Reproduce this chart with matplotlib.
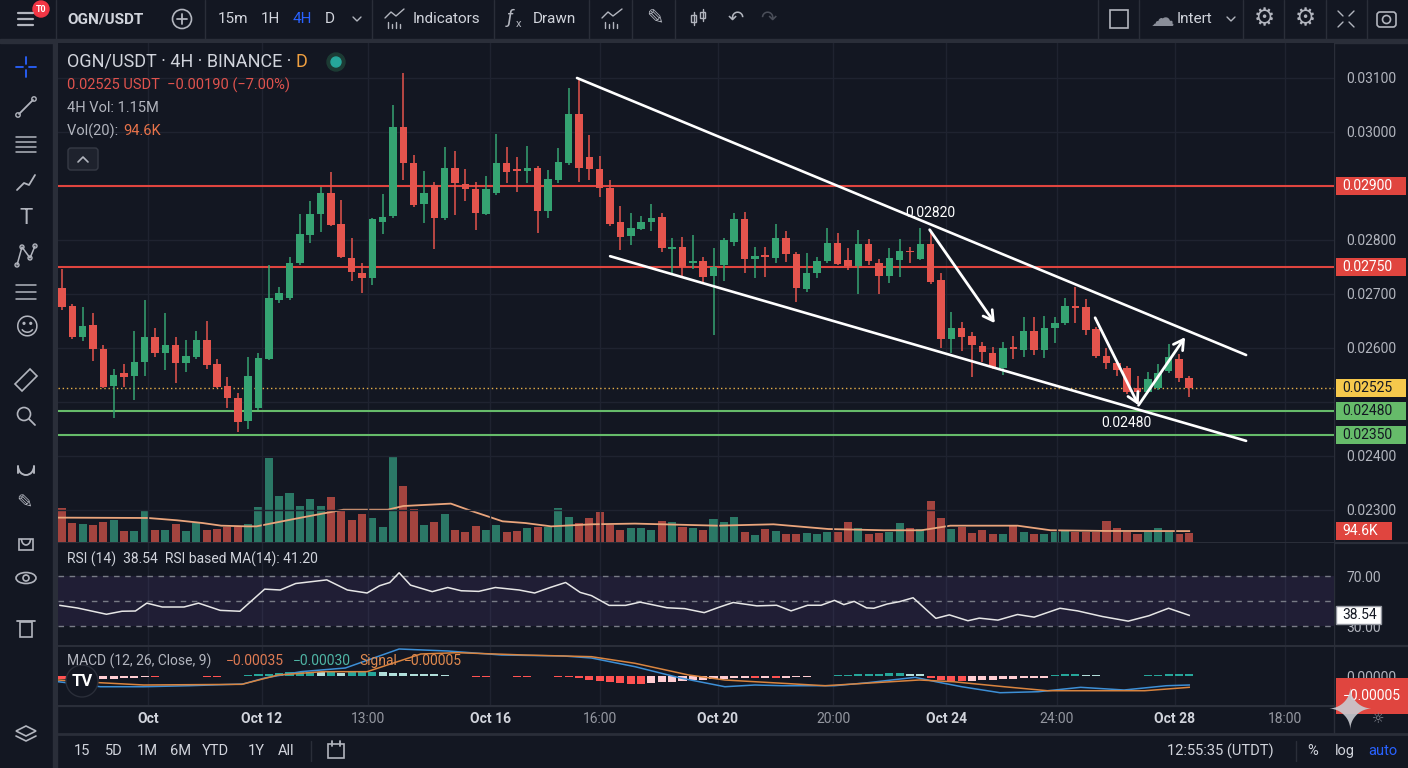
import matplotlib.pyplot as plt
from matplotlib.patches import Rectangle, Circle, FancyBboxPatch, Polygon, Ellipse, Arc
import numpy as np

# ---- candles, 4H, prices in 1e-5 USDT ----
opens = [2711, 2678, 2620, 2643, 2598, 2530, 2554, 2548, 2574, 2620,
         2591, 2606, 2572, 2583, 2615, 2570, 2530, 2507, 2465, 2489,
         2580, 2689, 2693, 2757, 2809, 2848, 2887, 2830, 2767, 2739,
         2730, 2833, 2845, 3009, 2943, 2867, 2902, 2841, 2933, 2904,
         2894, 2848, 2887, 2943, 2931, 2928, 2933, 2854, 2911, 2943,
         3033, 2954, 2931, 2896, 2833, 2807, 2820, 2833, 2843, 2783,
         2787, 2757, 2761, 2733, 2754, 2796, 2839, 2765, 2772, 2767,
         2804, 2774, 2709, 2739, 2761, 2795, 2763, 2752, 2793, 2757,
         2733, 2763, 2780, 2765, 2793, 2726, 2617, 2637, 2622, 2604,
         2591, 2563, 2602, 2596, 2632, 2596, 2637, 2646, 2678, 2676,
         2635, 2585, 2572, 2563, 2526, 2519, 2526, 2557, 2580, 2544]
highs = [2746, 2682, 2676, 2665, 2606, 2561, 2570, 2632, 2689, 2637,
         2665, 2620, 2615, 2632, 2650, 2580, 2546, 2517, 2583, 2591,
         2754, 2713, 2769, 2848, 2872, 2898, 2926, 2874, 2804, 2757,
         2841, 2885, 3050, 3109, 2957, 2928, 2907, 2972, 2965, 2931,
         2907, 2918, 2996, 2972, 2954, 2974, 2937, 2930, 2970, 3082,
         3100, 2995, 2956, 2911, 2863, 2850, 2845, 2867, 2850, 2804,
         2806, 2809, 2769, 2785, 2804, 2850, 2852, 2787, 2787, 2830,
         2817, 2778, 2776, 2769, 2822, 2813, 2785, 2818, 2802, 2765,
         2785, 2802, 2787, 2822, 2813, 2739, 2667, 2648, 2630, 2611,
         2602, 2611, 2622, 2657, 2657, 2659, 2657, 2693, 2713, 2691,
         2639, 2600, 2574, 2567, 2548, 2556, 2570, 2607, 2589, 2548]
lows = [2670, 2617, 2613, 2576, 2526, 2470, 2528, 2504, 2548, 2583,
        2559, 2535, 2556, 2580, 2561, 2526, 2489, 2444, 2450, 2485,
        2578, 2683, 2689, 2754, 2795, 2815, 2826, 2767, 2724, 2702,
        2717, 2811, 2841, 2911, 2861, 2832, 2783, 2837, 2846, 2872,
        2818, 2846, 2883, 2906, 2889, 2906, 2813, 2841, 2906, 2939,
        2907, 2911, 2880, 2826, 2782, 2791, 2818, 2817, 2778, 2739,
        2733, 2746, 2722, 2624, 2724, 2789, 2739, 2730, 2732, 2757,
        2759, 2685, 2704, 2730, 2757, 2754, 2745, 2700, 2754, 2700,
        2720, 2732, 2757, 2763, 2718, 2600, 2591, 2594, 2546, 2574,
        2561, 2550, 2580, 2583, 2587, 2582, 2609, 2643, 2646, 2624,
        2582, 2561, 2548, 2515, 2498, 2517, 2522, 2554, 2537, 2509]
closes = [2676, 2620, 2641, 2598, 2528, 2550, 2546, 2574, 2620, 2591,
          2606, 2572, 2585, 2615, 2569, 2528, 2507, 2463, 2548, 2582,
          2693, 2702, 2757, 2811, 2848, 2887, 2828, 2769, 2741, 2730,
          2839, 2843, 3009, 2943, 2865, 2887, 2841, 2933, 2906, 2894,
          2850, 2894, 2943, 2926, 2928, 2933, 2854, 2913, 2945, 3033,
          2933, 2931, 2896, 2830, 2806, 2822, 2833, 2841, 2785, 2787,
          2750, 2761, 2732, 2750, 2800, 2839, 2765, 2770, 2769, 2804,
          2774, 2711, 2739, 2761, 2795, 2756, 2752, 2793, 2761, 2733,
          2767, 2780, 2778, 2793, 2722, 2617, 2637, 2620, 2606, 2593,
          2565, 2600, 2598, 2632, 2596, 2637, 2646, 2678, 2674, 2633,
          2585, 2572, 2559, 2519, 2519, 2543, 2554, 2583, 2544, 2525]
volume_k = [299, 165, 154, 148, 177, 189, 96, 96, 273, 102,
            102, 154, 96, 165, 107, 113, 131, 131, 154, 305,
            734, 400, 429, 313, 377, 310, 394, 281, 194, 241,
            206, 131, 740, 490, 284, 151, 177, 241, 102, 84,
            136, 102, 148, 84, 96, 119, 131, 131, 293, 218,
            165, 206, 258, 148, 102, 119, 119, 102, 180, 171,
            131, 125, 107, 197, 171, 218, 90, 61, 113, 96,
            73, 73, 78, 73, 90, 90, 171, 119, 73, 78,
            90, 165, 119, 113, 357, 206, 113, 131, 78, 107,
            67, 73, 142, 90, 73, 73, 90, 102, 90, 90,
            90, 183, 119, 84, 73, 84, 119, 84, 73, 78]

# Vol(20) line read at sample bars
vol_ma_x = [-0.3, 8.3, 11.1, 13.6, 15.4, 17.9, 18.8, 22.6, 27.2, 31.5, 33.0, 37.6, 39.4, 42.6,
            44.8, 47.3, 51.2, 55.4, 63.4, 68.8, 74.1, 79.5, 83.1, 85.9, 92.4, 95.6, 101.0, 109.0]
vol_ma_k = [212, 209, 189, 165, 142, 136, 136, 203, 281, 281, 313, 334, 276, 180,
            165, 136, 154, 160, 142, 154, 113, 102, 102, 142, 142, 102, 96, 95]

# RSI(14) read at sample bars
rsi_x = [-0.2, 1.5, 4.3, 5.8, 7.1, 8.2, 9.7, 11.8, 13.2, 15.3, 17.2, 19.6, 21.1, 22.6, 25.6,
         27.6, 29.5, 30.7, 31.7, 32.6, 33.7, 35.8, 37.3, 38.6, 40.3, 41.9, 44.2, 45.7, 47.2,
         48.7, 50.1, 51.2, 52.9, 54.5, 55.9, 58.5, 60.2, 62.1, 63.6, 64.9, 67.2, 69.1, 70.5,
         72.1, 73.4, 74.7, 75.6, 76.6, 77.8, 78.5, 79.8, 81.0, 82.3, 84.5, 85.8, 87.6, 88.7,
         90.5, 92.4, 94.0, 96.5, 98.2, 100.6, 103.1, 105.1, 107.0, 109.0]
rsi_val = [46.5, 44.4, 39.4, 41.8, 42.0, 48.3, 45.2, 45.2, 48.3, 42.5, 41.8, 59.5, 58.8, 64.0, 66.9,
           58.8, 56.4, 62.2, 64.8, 72.6, 62.7, 57.5, 60.8, 58.2, 57.7, 60.8, 58.8, 56.4, 60.8,
           64.8, 56.9, 54.3, 46.5, 46.5, 49.1, 44.6, 43.9, 40.7, 45.2, 48.8, 46.1, 46.6, 42.1,
           46.6, 46.6, 50.5, 47.1, 49.7, 44.5, 44.2, 47.6, 49.5, 52.6, 36.1, 38.9, 34.2, 36.3,
           34.7, 39.2, 37.1, 44.2, 42.1, 37.6, 33.9, 38.2, 44.2, 38.54]

# MACD (1e-5 units)
macd_x = [-0.4, 3.7, 7.9, 12.3, 17.5, 19.6, 23.1, 27.4, 32.6, 37.3, 42.5, 48.5, 51.2, 55.4, 59.8,
          64.1, 67.0, 69.7, 74.7, 77.9, 82.5, 84.5, 87.0, 90.7, 94.4, 98.5, 102.7, 106.8, 109.0]
macd_val = [-1.42, -2.68, -2.68, -2.43, -2.0, -0.5, 1.08, 2.0, 6.75, 6.25, 5.25, 5.0, 4.5, 2.33, -0.5,
            -2.68, -2.25, -2.43, -2.43, -1.68, -0.33, -1.43, -2.68, -4.18, -3.93, -2.83, -3.5, -2.43, -2.25]
signal_x = [-0.4, 3.7, 7.9, 17.4, 20.9, 25.2, 29.5, 34.7, 38.2, 44.7, 51.2, 55.4, 60.6, 64.1,
            67.0, 73.8, 82.9, 86.2, 91.1, 95.3, 100.6, 104.7, 109.0]
signal_val = [-1.0, -1.68, -2.25, -2.08, 0.25, 1.08, 1.08, 5.5, 5.83, 5.25, 4.83, 3.18, 0.25, -1.0,
              -1.43, -2.43, -1.0, -1.43, -2.68, -3.68, -3.68, -3.68, -2.83]
hist = [-0.8, -1.0, -1.0, -0.9, -0.8, -0.7, -0.6, -0.5,
        -0.2, -0.2, -0.1, 0.1, 0.1, -0.1, -0.2, -0.2, -0.1, 0.1, 0.2,
        0.4, 0.6, 0.8, 0.9, 1.0, 1.0, 0.9, 0.9, 0.8, 0.9, 1.0, 1.0, 0.9, 0.8, 0.7, 0.6, 0.5, 0.4, 0.3,
        -0.1, -0.1, -0.2, -0.2, -0.1, -0.1, -0.2, -0.2, -0.1, -0.1, -0.2, -0.3,
        -0.6, -0.9, -1.2, -1.5, -1.7, -1.9, -1.9, -1.8, -1.6, -1.4, -1.2, -1.0, -0.9, -0.8, -0.7, -0.6, -0.5,
        -0.6, -0.5, -0.5, -0.4, -0.3, -0.2, -0.1,
        0.1, 0.2, 0.3, 0.4, 0.5, 0.6, 0.7, 0.7, 0.6, 0.5,
        -0.4, -0.9, -1.2, -1.3, -1.2, -1.1, -1.0, -0.8, -0.7, -0.6, -0.5, -0.4,
        0.3, 0.4, 0.4, 0.3, 0.2,
        -0.1, -0.1, -0.1, -0.1,
        0.2, 0.3, 0.4, 0.4, 0.4]

time_ticks = [8.3, 19.3, 29.6, 41.4, 52.0, 63.4, 74.6, 85.5, 96.2, 107.6, 118.3]
time_labels = ['Oct', 'Oct 12', '13:00', 'Oct 16', '16:00', 'Oct 20', '20:00',
               'Oct 24', '24:00', 'Oct 28', '18:00']
price_levels = [3100, 3000, 2900, 2800, 2700, 2600, 2500, 2400, 2300]
resistance = [2900, 2750]
support = [2483, 2439]
support_text = ['0.02480', '0.02350']
channel_upper = ([49.8, 114.5], [3100, 2587])
channel_lower = ([53.0, 114.5], [2770, 2428])
arrows = [((83.9, 2819), (90.2, 2646)),
          ((99.9, 2656), (104.1, 2494)),
          ((104.1, 2494), (108.6, 2620))]

BG = '#131722'
SEP = '#2a2e39'
GRID = '#1f2330'
TXT = '#d1d4dc'
MUTED = '#b2b5be'
UP, DOWN = '#35a372', '#e4544d'
VUP, VDN = '#2b7866', '#a3443f'

plt.rcParams['font.family'] = ['Roboto', 'DejaVu Sans']

W, H = 1408, 768
fig = plt.figure(figsize=(W / 100, H / 100), dpi=100, facecolor=BG)


def box(x0, y0, x1, y1):
    return [x0 / W, 1 - y1 / H, (x1 - x0) / W, (y1 - y0) / H]


# ---------- interface chrome (pixel coords) ----------
ui = fig.add_axes([0, 0, 1, 1])
ov = fig.add_axes([0, 0, 1, 1], zorder=10)
for a in (ui, ov):
    a.set_xlim(0, W)
    a.set_ylim(H, 0)
    a.axis('off')


def ln(xs, ys, c=MUTED, lw=1.3, a=None):
    (a or ui).plot(xs, ys, color=c, lw=lw, solid_capstyle='round')


def tx(x, y, s, c=TXT, size=10.5, a=None, **kw):
    return (a or ui).text(x, y, s, color=c, fontsize=size, va='center', **kw)


ui.add_patch(Rectangle((0, 39), W, 4, color=SEP))
ui.add_patch(Rectangle((53, 43), 4, H - 43, color=SEP))
ln([57, W], [733.5, 733.5], SEP, 2)
ln([1334, 1334], [43, 733], SEP, 1)
for yy in (542.5, 646, 705.5):
    ln([57, W], [yy, yy], SEP, 1.6)
for xx in (56, 205, 372, 494, 589, 632, 675, 1098, 1139, 1243, 1284, 1326, 1367):
    ln([xx, xx], [0, 39], SEP, 1)

# top bar
for yy in (13, 19, 25):
    ln([18, 33], [yy, yy], MUTED, 1.6)
ui.add_patch(Circle((41, 9), 8, color='#f23645'))
tx(41, 9.5, 'T0', 'white', 6.5, ha='center', weight='bold')
tx(67, 19, 'OGN/USDT', TXT, 11, weight='bold')
ui.add_patch(Circle((182, 19), 9.5, fill=False, ec=MUTED, lw=1.2))
ln([177, 187], [19, 19])
ln([182, 182], [14, 24])
for s, x0, c in (('15m', 218, TXT), ('1H', 261, TXT), ('4H', 293, '#2962ff'), ('D', 325, TXT)):
    tx(x0, 19, s, c, 11)
ln([353, 357, 361], [17, 21, 17], MUTED, 1)
ln([385, 391, 396, 404], [18, 12, 16, 9], MUTED, 1)
for k, x0 in enumerate((388, 392, 396, 400)):
    ln([x0, x0], [28, 22 + (k % 2) * 2], MUTED, 1)
tx(413, 19, 'Indicators', TXT, 11)
tx(507, 18, 'ƒ', MUTED, 14, style='italic')
tx(516, 24, 'x', MUTED, 8)
tx(533, 19, 'Drawn', TXT, 11)
ln([602, 608, 613, 622], [18, 12, 16, 9], MUTED, 1)
for k, x0 in enumerate((605, 609, 613, 617)):
    ln([x0, x0], [28, 22 + (k % 2) * 2], MUTED, 1)
tx(655, 19, '✎', MUTED, 15, ha='center')
for x0, y0, h0 in ((691, 12, 13), (700, 9, 12)):
    ui.add_patch(Rectangle((x0, y0 + 3), 5, h0 - 6, fill=False, ec=MUTED, lw=1))
    ln([x0 + 2.5, x0 + 2.5], [y0, y0 + h0], MUTED, 1)
tx(736, 19, '↶', MUTED, 14, ha='center')
tx(768, 19, '↷', '#4a4e59', 14, ha='center')
ui.add_patch(Rectangle((1110, 10), 18, 18, fill=False, ec=MUTED, lw=1.2))
tx(1163, 19, '☁', '#8a8e99', 17, ha='center')
tx(1177, 19, 'Intert', TXT, 11)
ln([1227, 1231, 1235], [17, 21, 17], MUTED, 1)
tx(1264, 19, '⚙', MUTED, 17, ha='center')
tx(1305, 19, '⚙', MUTED, 17, ha='center')
for sx, sy in ((-1, -1), (1, -1), (-1, 1), (1, 1)):
    cx, cy = 1346 + sx * 3, 19 + sy * 3
    ln([cx, cx + sx * 5], [cy, cy + sy * 5], MUTED, 1)
ui.add_patch(FancyBboxPatch((1377, 12), 19, 15, boxstyle='round,pad=0,rounding_size=3',
                            fill=False, ec=MUTED, lw=1.2))
ui.add_patch(Circle((1386.5, 19.5), 4, fill=False, ec=MUTED, lw=1.2))

# left toolbar
ln([26, 26], [57, 64], '#2962ff', 1.3)
ln([26, 26], [70, 77], '#2962ff', 1.3)
ln([16, 23], [67, 67], '#2962ff', 1.3)
ln([29, 36], [67, 67], '#2962ff', 1.3)
ln([19, 33], [114, 100])
ui.add_patch(Circle((18, 115), 2.2, fill=False, ec=MUTED, lw=1))
ui.add_patch(Circle((34, 99), 2.2, fill=False, ec=MUTED, lw=1))
for yy in (137, 142, 147, 152):
    ln([16, 36], [yy, yy], MUTED, 1.1)
ln([17, 24, 29, 35], [190, 183, 185, 175])
tx(26, 218, 'T', MUTED, 16, ha='center')
ln([17, 22, 30, 35], [265, 247, 258, 246], MUTED, 1.1)
for px_, py_ in ((17, 265), (22, 247), (30, 258), (35, 246)):
    ui.add_patch(Circle((px_, py_), 2, fill=False, ec=MUTED, lw=1))
for yy in (285, 292, 299):
    ln([16, 36], [yy, yy], MUTED, 1.1)
tx(26, 329, '☺', MUTED, 17, ha='center')
ui.add_patch(Polygon([(15, 384), (30, 369), (37, 376), (22, 391)], fill=False, ec=MUTED, lw=1.2))
ui.add_patch(Circle((24, 414), 6.5, fill=False, ec=MUTED, lw=1.2))
ln([29, 35], [419, 425])
ui.add_patch(Arc((26, 466), 16, 18, theta1=0, theta2=180, ec=MUTED, lw=1.4))
ln([18, 18], [466, 473], MUTED, 1.4)
ln([34, 34], [466, 473], MUTED, 1.4)
tx(24, 504, '✎', MUTED, 14, ha='center')
ui.add_patch(Rectangle((19, 539), 14, 11, fill=False, ec=MUTED, lw=1.2))
ui.add_patch(Arc((26, 539), 9, 12, theta1=0, theta2=180, ec=MUTED, lw=1.2))
ui.add_patch(Ellipse((26, 578), 20, 11, fill=False, ec=MUTED, lw=1.2))
ui.add_patch(Circle((26, 578), 3, fill=False, ec=MUTED, lw=1.2))
ui.add_patch(Rectangle((20, 622), 12, 15, fill=False, ec=MUTED, lw=1.2))
ln([17, 35], [621, 621])
ui.add_patch(Polygon([(26, 726), (36, 731), (26, 736), (16, 731)], fill=False, ec=MUTED, lw=1.2))
ln([16, 26, 36], [736, 741, 736], MUTED, 1.2)

# bottom bar
for s, xc in zip(['15', '5D', '1M', '6M', 'YTD', '1Y', 'All'], [82, 114, 147, 181, 215, 256, 286]):
    tx(xc, 751, s, TXT, 10.5, ha='center')
ln([311, 311], [741, 761], SEP, 1)
ui.add_patch(Rectangle((328, 744), 16, 14, fill=False, ec=MUTED, lw=1.2))
ln([332, 332], [741, 746])
ln([340, 340], [741, 746])
tx(1220, 751, '12:55:35 (UTDT)', TXT, 10.5, ha='center')
ln([1296, 1296], [741, 761], SEP, 1)
tx(1313, 751, '%', TXT, 10.5, ha='center')
tx(1345, 751, 'log', TXT, 10.5, ha='center')
tx(1383, 751, 'auto', '#2962ff', 10.5, ha='center')

# ---------- chart panes ----------
XL = (-0.387, 123.0)
idx = np.arange(len(opens))
o, hi, lo, c = (np.array(v, dtype=float) for v in (opens, highs, lows, closes))
up = c >= o
ccol = np.where(up, UP, DOWN)

ax_vol = fig.add_axes(box(58, 43, 1334, 542))
ax = fig.add_axes(box(58, 43, 1334, 542))
ax_rsi = fig.add_axes(box(58, 543, 1334, 645))
ax_macd = fig.add_axes(box(58, 647, 1334, 705))

for a in (ax_vol, ax, ax_rsi, ax_macd):
    a.set_xlim(XL)
    a.set_facecolor(BG)
    for s in a.spines.values():
        s.set_visible(False)
    a.set_xticks(time_ticks)
    a.tick_params(axis='both', length=0, labelsize=10, labelcolor=MUTED, pad=9)
    a.tick_params(axis='x', labelbottom=False)
    a.yaxis.tick_right()
    a.set_axisbelow(True)
ax.set_facecolor('none')

# volume overlay
ax_vol.bar(idx, volume_k, width=0.78, color=np.where(up, VUP, VDN), zorder=2)
ax_vol.plot(vol_ma_x, vol_ma_k, color='#eaa57c', lw=1.3, zorder=3)
ax_vol.set_ylim(0, 4341)
ax_vol.set_yticks([])

# price
ax.grid(True, color=GRID, lw=1)
ax.vlines(idx, lo, hi, colors=ccol, lw=1.1, zorder=3)
ax.bar(idx, np.maximum(np.abs(c - o), 2), bottom=np.minimum(o, c), width=0.72, color=ccol, zorder=4)
ax.set_ylim(2240.7, 3164.8)
ax.set_yticks(price_levels)
ax.set_yticklabels(['' if v in (2900, 2500) else f'{v / 1e5:.5f}' for v in price_levels])
for lvl in resistance:
    ax.axhline(lvl, color='#e0453f', lw=1.5, zorder=2)
for lvl in support:
    ax.axhline(lvl, color='#66bb6a', lw=1.5, zorder=2)
ax.axhline(c[-1], color='#e8b04a', lw=1, ls=(0, (1, 2)), zorder=2)

ax.plot(*channel_upper, color='white', lw=1.9, zorder=5, solid_capstyle='round')
ax.plot(*channel_lower, color='white', lw=1.9, zorder=5, solid_capstyle='round')
for (x0, y0), (x1, y1) in arrows:
    ax.annotate('', xy=(x1, y1), xytext=(x0, y0), zorder=5,
                arrowprops=dict(arrowstyle='->,head_length=0.7,head_width=0.4', color='white',
                                lw=2, shrinkA=0, shrinkB=0))
ax.text(84.0, 2850, '0.02820', color='white', fontsize=10, ha='center', va='center', zorder=6)
ax.text(102.9, 2461, '0.02480', color='white', fontsize=10, ha='center', va='center', zorder=6)


def badge(a, y, text, fc, tc, unit_px, width=70, ec='none'):
    hh = 9 / unit_px
    tr = a.get_yaxis_transform()
    a.add_patch(Rectangle((1.0012, y - hh), width / 1276, 2 * hh, transform=tr, facecolor=fc,
                          edgecolor=ec, lw=1, clip_on=False, zorder=8))
    a.text(1.0012 + 7 / 1276, y, text, transform=tr, ha='left', va='center', fontsize=10,
           color=tc, zorder=9, clip_on=False)


badge(ax, 2900, '0.02900', '#e0453f', 'white', 0.54)
badge(ax, 2750, '0.02750', '#e0453f', 'white', 0.54)
badge(ax, c[-1], f'{c[-1] / 1e5:.5f}', '#f5c84c', '#131722', 0.54)
for lvl, s in zip(support, support_text):
    badge(ax, lvl, s, '#66bb6a', '#131722', 0.54)
badge(ax_vol, vol_ma_k[-1], f'{vol_ma_k[-1] - 0.4:.1f}K', '#e0453f', 'white', 1 / 8.7, width=56)

# header legend (drawn above the panes)
head = tx(67, 62, 'OGN/USDT · 4H · BINANCE · ', TXT, 13, a=ov)
renderer = fig.canvas.get_renderer()
head_end = ov.transData.inverted().transform(head.get_window_extent(renderer).p1)[0]
tx(head_end, 62, 'D', '#f0a040', 13, a=ov)
ov.add_patch(Circle((336, 62), 9, color='#1c3b34'))
ov.add_patch(Circle((336, 62), 5, color='#26a69a'))
tx(67, 85, '0.02525 USDT  −0.00190 (−7.00%)', '#e0534e', 10.5, a=ov)
tx(67, 108, '4H Vol: 1.15M', MUTED, 10.5, a=ov)
tx(67, 131, 'Vol(20): ', MUTED, 10.5, a=ov)
tx(123, 131, '94.6K', '#e8734a', 10.5, a=ov)
ov.add_patch(FancyBboxPatch((68, 148), 30, 22, boxstyle='round,pad=0,rounding_size=3',
                            fc='#1e222d', ec='#363a45', lw=1))
ln([78, 83, 88], [162, 157, 162], MUTED, 1.2, a=ov)

# RSI pane
ax_rsi.grid(True, axis='x', color=GRID, lw=1)
ax_rsi.axhspan(30, 70, color='#7e57c2', alpha=0.12, lw=0)
for lvl in (70, 50, 30):
    ax_rsi.axhline(lvl, color='#787b86', lw=1, ls=(0, (4, 4)))
ax_rsi.plot(rsi_x, rsi_val, color='#e6e6e6', lw=1.1)
ax_rsi.set_ylim(14.8, 96.4)
ax_rsi.set_yticks([70, 30])
ax_rsi.set_yticklabels(['70.00', '30.00'])
badge(ax_rsi, rsi_val[-1], f'{rsi_val[-1]:.2f}', 'white', '#131722', 1.25, width=45, ec='#9598a1')
tx(67, 559, 'RSI (14)  38.54  RSI based MA(14): 41.20', TXT, 10, a=ov)

# MACD pane
hv = np.array(hist)
prev = np.concatenate([[hv[0]], hv[:-1]])
hcol = np.where(hv >= 0, np.where(hv >= prev, '#26a69a', '#b2dfdb'),
                np.where(hv <= prev, '#ff5252', '#ffcdd2'))
ax_macd.grid(True, axis='x', color=GRID, lw=1)
ax_macd.bar(idx, hv, width=0.78, color=hcol, zorder=2)
ax_macd.plot(macd_x, macd_val, color='#3d8fd6', lw=1.1, zorder=3)
ax_macd.plot(signal_x, signal_val, color='#d9843f', lw=1.1, zorder=3)
ax_macd.set_ylim(-7.25, 7.25)
ax_macd.set_yticks([0])
ax_macd.set_yticklabels(['0.00000'])
badge(ax_macd, -5, '−0.00005', '#e0453f', 'white', 2.0, width=72)
ax_macd.tick_params(axis='x', labelbottom=True, pad=5)
ax_macd.set_xticklabels(time_labels)
for lab in ax_macd.get_xticklabels():
    if lab.get_text().startswith('Oct'):
        lab.set_color(TXT)
        lab.set_fontweight('bold')
    else:
        lab.set_color('#9598a1')
for s, x0, col in (('MACD (12, 26, Close, 9)', 67, MUTED), ('−0.00035', 226, '#e07b53'),
                   ('−0.00030', 293, '#4fb5a5'), ('Signal', 359, '#e08a4f'),
                   ('−0.00005', 404, '#e08a4f')):
    tx(x0, 661, s, col, 10, a=ov)

# overlay marks
ov.add_patch(Circle((82, 681), 16, fc='#131722', ec='#2a2e39', lw=1))
ov.text(82, 682, 'TV', color='white', fontsize=12, weight='bold', ha='center', va='center')
ov.text(1350, 713, '✦', color='#c9cbd1', fontsize=40, ha='center', va='center', alpha=0.9)
ov.text(1378, 719, '☼', color='#8a8e99', fontsize=10, ha='center', va='center')

fig.savefig('out.png', dpi=100, facecolor=BG)
